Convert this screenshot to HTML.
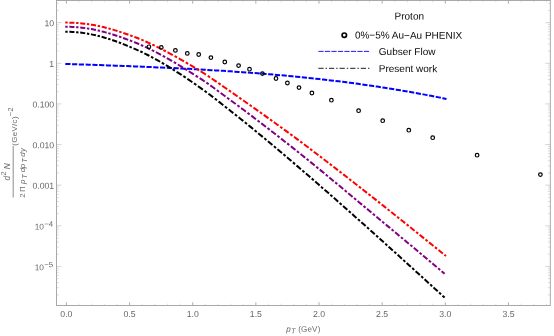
<!DOCTYPE html>
<html><head><meta charset="utf-8"><style>html,body{margin:0;padding:0;background:#fff}body{width:554px;height:336px;overflow:hidden;font-family:"Liberation Sans",sans-serif}</style></head><body>
<svg width="554" height="336" viewBox="0 0 554 336" style="display:block;will-change:transform">
<rect width="554" height="336" fill="#fff"/>
<path d="M56.50,266.45 h5.00 M550.30,266.45 h-5.00 M56.50,225.82 h5.00 M550.30,225.82 h-5.00 M56.50,185.19 h5.00 M550.30,185.19 h-5.00 M56.50,144.56 h5.00 M550.30,144.56 h-5.00 M56.50,103.93 h5.00 M550.30,103.93 h-5.00 M56.50,63.30 h5.00 M550.30,63.30 h-5.00 M56.50,22.67 h5.00 M550.30,22.67 h-5.00" stroke="#aaa" stroke-width="0.5" fill="none"/>
<path d="M66.40,305.50 v-3.20 M66.40,0.45 v3.20 M129.55,305.50 v-3.20 M129.55,0.45 v3.20 M192.70,305.50 v-3.20 M192.70,0.45 v3.20 M255.85,305.50 v-3.20 M255.85,0.45 v3.20 M319.00,305.50 v-3.20 M319.00,0.45 v3.20 M382.15,305.50 v-3.20 M382.15,0.45 v3.20 M445.30,305.50 v-3.20 M445.30,0.45 v3.20 M508.45,305.50 v-3.20 M508.45,0.45 v3.20" stroke="#8a8a8a" stroke-width="0.7" fill="none"/>
<path d="M79.03,305.50 v-1.90 M79.03,0.45 v1.90 M91.66,305.50 v-1.90 M91.66,0.45 v1.90 M104.29,305.50 v-1.90 M104.29,0.45 v1.90 M116.92,305.50 v-1.90 M116.92,0.45 v1.90 M142.18,305.50 v-1.90 M142.18,0.45 v1.90 M154.81,305.50 v-1.90 M154.81,0.45 v1.90 M167.44,305.50 v-1.90 M167.44,0.45 v1.90 M180.07,305.50 v-1.90 M180.07,0.45 v1.90 M205.33,305.50 v-1.90 M205.33,0.45 v1.90 M217.96,305.50 v-1.90 M217.96,0.45 v1.90 M230.59,305.50 v-1.90 M230.59,0.45 v1.90 M243.22,305.50 v-1.90 M243.22,0.45 v1.90 M268.48,305.50 v-1.90 M268.48,0.45 v1.90 M281.11,305.50 v-1.90 M281.11,0.45 v1.90 M293.74,305.50 v-1.90 M293.74,0.45 v1.90 M306.37,305.50 v-1.90 M306.37,0.45 v1.90 M331.63,305.50 v-1.90 M331.63,0.45 v1.90 M344.26,305.50 v-1.90 M344.26,0.45 v1.90 M356.89,305.50 v-1.90 M356.89,0.45 v1.90 M369.52,305.50 v-1.90 M369.52,0.45 v1.90 M394.78,305.50 v-1.90 M394.78,0.45 v1.90 M407.41,305.50 v-1.90 M407.41,0.45 v1.90 M420.04,305.50 v-1.90 M420.04,0.45 v1.90 M432.67,305.50 v-1.90 M432.67,0.45 v1.90 M457.93,305.50 v-1.90 M457.93,0.45 v1.90 M470.56,305.50 v-1.90 M470.56,0.45 v1.90 M483.19,305.50 v-1.90 M483.19,0.45 v1.90 M495.82,305.50 v-1.90 M495.82,0.45 v1.90 M521.08,305.50 v-1.90 M521.08,0.45 v1.90 M533.71,305.50 v-1.90 M533.71,0.45 v1.90 M546.34,305.50 v-1.90 M546.34,0.45 v1.90 M56.50,294.85 h2.50 M550.30,294.85 h-2.50 M56.50,287.69 h2.50 M550.30,287.69 h-2.50 M56.50,282.62 h2.50 M550.30,282.62 h-2.50 M56.50,278.68 h2.50 M550.30,278.68 h-2.50 M56.50,275.46 h2.50 M550.30,275.46 h-2.50 M56.50,272.74 h2.50 M550.30,272.74 h-2.50 M56.50,270.39 h2.50 M550.30,270.39 h-2.50 M56.50,268.31 h2.50 M550.30,268.31 h-2.50 M56.50,254.22 h2.50 M550.30,254.22 h-2.50 M56.50,247.06 h2.50 M550.30,247.06 h-2.50 M56.50,241.99 h2.50 M550.30,241.99 h-2.50 M56.50,238.05 h2.50 M550.30,238.05 h-2.50 M56.50,234.83 h2.50 M550.30,234.83 h-2.50 M56.50,232.11 h2.50 M550.30,232.11 h-2.50 M56.50,229.76 h2.50 M550.30,229.76 h-2.50 M56.50,227.68 h2.50 M550.30,227.68 h-2.50 M56.50,213.59 h2.50 M550.30,213.59 h-2.50 M56.50,206.43 h2.50 M550.30,206.43 h-2.50 M56.50,201.36 h2.50 M550.30,201.36 h-2.50 M56.50,197.42 h2.50 M550.30,197.42 h-2.50 M56.50,194.20 h2.50 M550.30,194.20 h-2.50 M56.50,191.48 h2.50 M550.30,191.48 h-2.50 M56.50,189.13 h2.50 M550.30,189.13 h-2.50 M56.50,187.05 h2.50 M550.30,187.05 h-2.50 M56.50,172.96 h2.50 M550.30,172.96 h-2.50 M56.50,165.80 h2.50 M550.30,165.80 h-2.50 M56.50,160.73 h2.50 M550.30,160.73 h-2.50 M56.50,156.79 h2.50 M550.30,156.79 h-2.50 M56.50,153.57 h2.50 M550.30,153.57 h-2.50 M56.50,150.85 h2.50 M550.30,150.85 h-2.50 M56.50,148.50 h2.50 M550.30,148.50 h-2.50 M56.50,146.42 h2.50 M550.30,146.42 h-2.50 M56.50,132.33 h2.50 M550.30,132.33 h-2.50 M56.50,125.17 h2.50 M550.30,125.17 h-2.50 M56.50,120.10 h2.50 M550.30,120.10 h-2.50 M56.50,116.16 h2.50 M550.30,116.16 h-2.50 M56.50,112.94 h2.50 M550.30,112.94 h-2.50 M56.50,110.22 h2.50 M550.30,110.22 h-2.50 M56.50,107.87 h2.50 M550.30,107.87 h-2.50 M56.50,105.79 h2.50 M550.30,105.79 h-2.50 M56.50,91.70 h2.50 M550.30,91.70 h-2.50 M56.50,84.54 h2.50 M550.30,84.54 h-2.50 M56.50,79.47 h2.50 M550.30,79.47 h-2.50 M56.50,75.53 h2.50 M550.30,75.53 h-2.50 M56.50,72.31 h2.50 M550.30,72.31 h-2.50 M56.50,69.59 h2.50 M550.30,69.59 h-2.50 M56.50,67.24 h2.50 M550.30,67.24 h-2.50 M56.50,65.16 h2.50 M550.30,65.16 h-2.50 M56.50,51.07 h2.50 M550.30,51.07 h-2.50 M56.50,43.91 h2.50 M550.30,43.91 h-2.50 M56.50,38.84 h2.50 M550.30,38.84 h-2.50 M56.50,34.90 h2.50 M550.30,34.90 h-2.50 M56.50,31.68 h2.50 M550.30,31.68 h-2.50 M56.50,28.96 h2.50 M550.30,28.96 h-2.50 M56.50,26.61 h2.50 M550.30,26.61 h-2.50 M56.50,24.53 h2.50 M550.30,24.53 h-2.50 M56.50,10.44 h2.50 M550.30,10.44 h-2.50 M56.50,3.28 h2.50 M550.30,3.28 h-2.50" stroke="#c0c0c0" stroke-width="0.5" fill="none"/>
<rect x="56.50" y="0.45" width="493.80" height="305.05" fill="none" stroke="#a0a0a0" stroke-width="0.9"/>
<g fill="none" stroke-width="2.0">
<path d="M65.30,63.91 L69.15,64.05 L73.00,64.18 L76.85,64.31 L80.70,64.44 L84.55,64.58 L88.40,64.71 L92.25,64.85 L96.10,64.98 L99.95,65.12 L103.81,65.26 L107.66,65.40 L111.51,65.54 L115.36,65.68 L119.21,65.82 L123.06,65.97 L126.91,66.12 L130.76,66.27 L134.61,66.42 L138.46,66.57 L142.31,66.73 L146.16,66.89 L150.01,67.05 L153.86,67.22 L157.71,67.39 L161.56,67.56 L165.41,67.74 L169.26,67.92 L173.11,68.10 L176.96,68.28 L180.82,68.48 L184.67,68.67 L188.52,68.87 L192.37,69.07 L196.22,69.28 L200.07,69.49 L203.92,69.71 L207.77,69.93 L211.62,70.16 L215.47,70.39 L219.32,70.62 L223.17,70.87 L227.02,71.12 L230.87,71.37 L234.72,71.63 L238.57,71.90 L242.42,72.17 L246.27,72.45 L250.12,72.73 L253.97,73.02 L257.83,73.32 L261.68,73.62 L265.53,73.93 L269.38,74.25 L273.23,74.58 L277.08,74.91 L280.93,75.25 L284.78,75.60 L288.63,75.96 L292.48,76.32 L296.33,76.69 L300.18,77.07 L304.03,77.46 L307.88,77.86 L311.73,78.26 L315.58,78.68 L319.43,79.10 L323.28,79.53 L327.13,79.98 L330.98,80.43 L334.84,80.89 L338.69,81.36 L342.54,81.83 L346.39,82.32 L350.24,82.82 L354.09,83.33 L357.94,83.85 L361.79,84.38 L365.64,84.92 L369.49,85.47 L373.34,86.03 L377.19,86.61 L381.04,87.19 L384.89,87.79 L388.74,88.39 L392.59,89.01 L396.44,89.64 L400.29,90.28 L404.14,90.93 L407.99,91.60 L411.85,92.28 L415.70,92.97 L419.55,93.67 L423.40,94.38 L427.25,95.11 L431.10,95.85 L434.95,96.60 L438.80,97.37 L442.65,98.15 L446.50,98.94" stroke="#0000ff" stroke-dasharray="5.2 1.57"/>
<path d="M65.30,22.61 L67.65,22.61 M69.37,22.64 L70.06,22.65 L72.44,22.72 L74.43,22.82 M76.14,22.92 L77.20,22.98 L78.50,23.09 M80.21,23.23 L81.96,23.39 L84.33,23.65 L85.25,23.77 M86.96,23.99 L89.09,24.29 L89.30,24.32 M91.01,24.59 L91.47,24.66 L93.85,25.07 L96.03,25.48 M97.72,25.82 L98.61,26.01 L100.05,26.32 M101.75,26.71 L103.37,27.08 L105.75,27.67 L106.74,27.93 M108.43,28.38 L110.51,28.95 L110.78,29.03 M112.49,29.52 L112.89,29.63 L115.27,30.35 L117.51,31.05 M119.20,31.59 L120.03,31.86 L121.58,32.38 M123.31,32.97 L124.78,33.48 L127.16,34.31 L128.41,34.75 M130.14,35.37 L131.92,36.01 L132.56,36.25 M134.32,36.90 L136.68,37.79 L139.06,38.73 L139.48,38.90 M141.22,39.60 L141.44,39.69 L143.65,40.62 M145.40,41.38 L146.20,41.73 L148.58,42.81 L150.56,43.72 M152.29,44.54 L153.34,45.03 L154.72,45.70 M156.48,46.56 L158.10,47.35 L160.47,48.55 L161.66,49.15 M163.40,50.05 L165.23,51.00 L165.83,51.31 M167.60,52.25 L167.61,52.25 L169.99,53.52 L172.37,54.81 L172.80,55.05 M174.55,56.01 L174.75,56.12 L176.99,57.37 M178.76,58.36 L179.51,58.79 L181.89,60.14 L183.96,61.34 M185.71,62.36 L186.65,62.90 L188.13,63.77 M189.88,64.81 L191.41,65.71 L193.79,67.13 L195.06,67.90 M196.80,68.95 L198.55,70.02 L199.18,70.41 M200.92,71.48 L200.92,71.49 L203.30,72.97 L205.68,74.48 L206.00,74.69 M207.71,75.80 L208.06,76.03 L210.03,77.34 M211.71,78.48 L212.82,79.23 L215.20,80.87 L216.65,81.88 M218.32,83.04 L219.96,84.18 L220.60,84.62 M222.25,85.77 L222.34,85.83 L224.72,87.47 L227.10,89.11 L227.17,89.16 M228.83,90.31 L229.48,90.76 L231.09,91.89 M232.74,93.04 L234.24,94.08 L236.62,95.75 L237.60,96.45 M239.25,97.60 L241.37,99.10 L241.49,99.18 M243.12,100.33 L243.75,100.77 L246.13,102.45 L247.95,103.73 M249.59,104.88 L250.89,105.80 L251.82,106.46 M253.44,107.60 L255.65,109.16 L258.03,110.84 L258.24,110.99 M259.86,112.14 L260.41,112.53 L262.08,113.72 M263.69,114.86 L265.17,115.91 L267.55,117.61 L268.45,118.26 M270.06,119.41 L272.27,120.99 M273.87,122.14 L274.69,122.73 L277.06,124.44 L278.60,125.56 M280.20,126.71 L281.82,127.89 L282.39,128.30 M283.98,129.46 L284.20,129.62 L286.58,131.36 L288.68,132.89 M290.26,134.06 L291.34,134.85 L292.43,135.66 M294.01,136.82 L296.10,138.37 L298.48,140.14 L298.67,140.28 M300.24,141.46 L300.86,141.92 L302.40,143.07 M303.96,144.25 L305.62,145.49 L308.00,147.28 L308.59,147.73 M310.15,148.91 L310.38,149.08 L312.29,150.53 M313.85,151.71 L315.13,152.69 L317.51,154.50 L318.44,155.20 M320.00,156.39 L322.12,158.01 M323.67,159.20 L324.65,159.95 L327.03,161.77 L328.24,162.70 M329.79,163.89 L331.79,165.43 L331.90,165.52 M333.44,166.71 L334.17,167.27 L336.55,169.11 L337.99,170.22 M339.53,171.41 L341.31,172.79 L341.63,173.05 M343.17,174.24 L343.69,174.64 L346.07,176.49 L347.69,177.76 M349.22,178.95 L350.82,180.20 L351.32,180.59 M352.85,181.78 L353.20,182.06 L355.58,183.92 L357.35,185.30 M358.88,186.50 L360.34,187.64 L360.97,188.13 M362.49,189.33 L362.72,189.51 L365.10,191.38 L366.98,192.85 M368.49,194.05 L369.86,195.12 L370.58,195.69 M372.09,196.88 L372.24,197.00 L374.62,198.88 L376.57,200.41 M378.08,201.61 L379.38,202.63 L380.15,203.25 M381.66,204.44 L381.76,204.52 L384.14,206.40 L386.12,207.98 M387.63,209.17 L388.89,210.18 L389.70,210.82 M391.20,212.01 L391.27,212.07 L393.65,213.97 L395.64,215.56 M397.15,216.76 L398.41,217.77 L399.21,218.40 M400.70,219.60 L400.79,219.67 L403.17,221.58 L405.13,223.15 M406.63,224.35 L407.93,225.39 L408.68,226.00 M410.18,227.20 L410.31,227.31 L412.69,229.22 L414.59,230.75 M416.09,231.95 L417.45,233.04 L418.14,233.60 M419.63,234.80 L419.83,234.96 L422.21,236.87 L424.04,238.35 M425.53,239.55 L426.97,240.70 L427.58,241.20 M429.07,242.40 L429.34,242.61 L431.72,244.53 L433.48,245.94 M434.97,247.14 L436.48,248.35 L437.02,248.78 M438.51,249.98 L438.86,250.26 L441.24,252.17 L442.92,253.51 M444.42,254.71 L446.00,255.98" stroke="#ff0000"/>
<path d="M65.30,26.80 L67.65,26.81 M69.37,26.84 L70.04,26.85 L72.41,26.93 L74.43,27.04 M76.14,27.16 L77.15,27.23 L78.49,27.35 M80.20,27.52 L81.89,27.70 L84.27,27.99 L85.24,28.13 M86.94,28.37 L89.01,28.70 L89.28,28.75 M90.98,29.04 L91.38,29.11 L93.75,29.57 L95.98,30.03 M97.66,30.41 L98.49,30.59 L99.99,30.95 M101.68,31.36 L103.23,31.75 L105.60,32.38 L106.65,32.67 M108.32,33.13 L110.34,33.72 L110.66,33.81 M112.36,34.33 L112.71,34.43 L115.08,35.18 L117.35,35.93 M119.03,36.50 L119.82,36.77 L121.40,37.33 M123.11,37.94 L124.57,38.48 L126.94,39.36 L128.17,39.82 M129.87,40.47 L131.68,41.16 L132.27,41.39 M134.01,42.08 L134.05,42.09 L136.42,43.05 L138.79,44.03 L139.13,44.18 M140.85,44.92 L141.16,45.05 L143.25,45.99 M144.99,46.78 L145.90,47.21 L148.27,48.34 L150.08,49.23 M151.79,50.07 L153.01,50.68 L154.19,51.28 M155.93,52.18 L157.75,53.13 L160.12,54.38 L161.03,54.87 M162.75,55.80 L164.87,56.97 L165.15,57.13 M166.89,58.10 L167.24,58.30 L169.61,59.65 L171.98,61.02 L172.00,61.04 M173.72,62.05 L174.35,62.42 L176.11,63.47 M177.85,64.51 L179.09,65.27 L181.46,66.71 L182.95,67.63 M184.68,68.70 L186.20,69.65 L187.05,70.18 M188.78,71.26 L190.94,72.60 L193.31,74.09 L193.89,74.45 M195.61,75.54 L195.68,75.58 L197.97,77.04 M199.68,78.15 L200.43,78.62 L202.80,80.18 L204.71,81.46 M206.39,82.60 L207.54,83.39 L208.68,84.20 M210.33,85.37 L212.28,86.77 L214.65,88.51 L215.18,88.91 M216.82,90.11 L217.02,90.27 L219.05,91.77 M220.67,92.97 L221.76,93.78 L224.13,95.52 L225.49,96.51 M227.12,97.70 L228.87,98.98 L229.35,99.33 M230.97,100.52 L231.24,100.73 L233.61,102.47 L235.75,104.05 M237.37,105.25 L238.36,105.98 L239.57,106.89 M241.18,108.08 L243.10,109.51 L245.47,111.29 L245.91,111.62 M247.51,112.83 L247.84,113.07 L249.70,114.47 M251.28,115.67 L252.58,116.65 L254.95,118.45 L255.97,119.22 M257.56,120.43 L259.69,122.06 L259.72,122.08 M261.29,123.28 L262.06,123.87 L264.43,125.69 L265.94,126.85 M267.51,128.06 L269.17,129.34 L269.66,129.71 M271.22,130.92 L271.54,131.17 L273.92,133.01 L275.83,134.50 M277.39,135.72 L278.66,136.71 L279.52,137.38 M281.07,138.59 L283.40,140.42 L285.65,142.19 M287.20,143.41 L288.14,144.15 L289.32,145.08 M290.86,146.30 L292.88,147.90 L295.25,149.79 L295.40,149.91 M296.94,151.14 L297.62,151.68 L299.04,152.82 M300.58,154.04 L302.36,155.47 L304.73,157.38 L305.09,157.67 M306.62,158.90 L307.10,159.29 L308.70,160.59 M310.22,161.82 L311.85,163.14 L314.22,165.07 L314.71,165.47 M316.22,166.70 L316.59,167.00 L318.29,168.40 M319.80,169.64 L321.33,170.89 L323.70,172.84 L324.26,173.30 M325.76,174.54 L326.07,174.79 L327.82,176.24 M329.32,177.48 L330.81,178.71 L333.18,180.67 L333.75,181.14 M335.25,182.39 L335.55,182.63 L337.30,184.09 M338.80,185.33 L340.29,186.57 L342.66,188.55 L343.21,189.00 M344.70,190.25 L345.03,190.52 L346.74,191.95 M348.23,193.19 L349.78,194.48 L352.15,196.46 L352.63,196.86 M354.12,198.10 L354.52,198.44 L356.15,199.81 M357.64,201.05 L359.26,202.40 L361.63,204.38 L362.02,204.71 M363.51,205.95 L364.00,206.37 L365.54,207.65 M367.02,208.89 L368.74,210.33 L371.11,212.31 L371.40,212.55 M372.88,213.79 L373.48,214.29 L374.91,215.48 M376.39,216.71 L378.22,218.24 L380.59,220.22 L380.77,220.36 M382.25,221.59 L382.96,222.19 L384.28,223.28 M385.76,224.51 L387.71,226.13 L390.08,228.10 L390.13,228.15 M391.61,229.38 L392.45,230.07 L393.64,231.06 M395.11,232.29 L397.19,234.02 L399.48,235.92 M400.95,237.15 L401.93,237.96 L402.98,238.83 M404.45,240.06 L406.67,241.90 L408.81,243.69 M410.29,244.92 L411.41,245.85 L412.31,246.60 M413.78,247.83 L413.78,247.83 L416.15,249.81 L418.13,251.46 M419.60,252.69 L420.89,253.77 L421.62,254.37 M423.08,255.60 L423.26,255.75 L425.63,257.74 L427.42,259.23 M428.89,260.46 L430.38,261.71 L430.90,262.15 M432.37,263.38 L432.75,263.70 L435.12,265.70 L436.69,267.03 M438.15,268.26 L439.86,269.70 L440.16,269.95 M441.62,271.19 L442.23,271.70 L444.60,273.71" stroke="#800080"/>
<path d="M65.30,31.79 L67.65,31.79 M69.37,31.83 L70.04,31.84 L72.41,31.94 L74.43,32.06 M76.14,32.19 L77.15,32.28 L78.49,32.41 M80.19,32.60 L81.89,32.80 L84.27,33.13 L85.22,33.28 M86.92,33.55 L89.01,33.91 L89.25,33.96 M90.94,34.28 L91.38,34.36 L93.75,34.86 L95.93,35.35 M97.60,35.75 L98.49,35.97 L99.92,36.34 M101.60,36.78 L103.23,37.23 L105.60,37.92 L106.53,38.20 M108.19,38.71 L110.34,39.40 L110.50,39.46 M112.18,40.02 L112.71,40.20 L115.08,41.03 L117.11,41.77 M118.77,42.40 L119.82,42.80 L121.09,43.30 M122.78,43.97 L124.57,44.69 L126.94,45.65 L127.76,45.99 M129.45,46.68 L131.68,47.60 L131.81,47.66 M133.54,48.38 L134.05,48.59 L136.42,49.61 L138.59,50.57 M140.29,51.35 L141.16,51.74 L142.66,52.45 M144.38,53.28 L145.90,54.04 L148.27,55.25 L149.39,55.84 M151.08,56.73 L153.01,57.76 L153.43,57.99 M155.14,58.93 L155.38,59.06 L157.75,60.38 L160.12,61.73 L160.15,61.75 M161.83,62.72 L162.50,63.10 L164.19,64.10 M165.89,65.12 L167.24,65.92 L169.61,67.36 L170.91,68.17 M172.60,69.21 L174.35,70.31 L174.95,70.69 M176.65,71.77 L176.72,71.82 L179.09,73.34 L181.46,74.88 L181.66,75.02 M183.35,76.13 L183.83,76.45 L185.67,77.68 M187.36,78.82 L188.57,79.63 L190.94,81.25 L192.34,82.21 M194.01,83.37 L195.68,84.54 L196.31,84.97 M197.97,86.14 L198.06,86.20 L200.43,87.88 L202.80,89.58 L202.88,89.64 M204.53,90.83 L205.17,91.30 L206.78,92.48 M208.41,93.69 L209.91,94.82 L212.28,96.62 L213.19,97.33 M214.80,98.57 L217.00,100.28 M218.59,101.52 L219.39,102.15 L221.76,104.01 L223.30,105.21 M224.90,106.46 L226.50,107.71 L227.08,108.17 M228.66,109.41 L228.87,109.58 L231.24,111.44 L233.34,113.10 M234.92,114.35 L235.99,115.20 L237.07,116.07 M238.64,117.32 L240.73,118.99 L243.10,120.90 L243.26,121.03 M244.82,122.29 L245.47,122.81 L246.95,124.01 M248.50,125.26 L250.21,126.65 L252.58,128.58 L253.07,128.98 M254.61,130.25 L254.95,130.52 L256.72,131.98 M258.25,133.24 L259.69,134.42 L262.06,136.38 L262.78,136.97 M264.31,138.24 L264.43,138.34 L266.39,139.97 M267.91,141.24 L269.17,142.29 L271.54,144.27 L272.40,144.98 M273.92,146.25 L275.99,148.00 M277.50,149.27 L278.66,150.24 L281.03,152.24 L281.95,153.03 M283.46,154.30 L285.52,156.05 M287.02,157.32 L288.14,158.27 L290.51,160.29 L291.45,161.09 M292.94,162.37 L294.99,164.12 M296.48,165.40 L297.62,166.37 L299.99,168.41 L300.88,169.17 M302.37,170.45 L304.41,172.21 M305.89,173.49 L307.10,174.54 L309.47,176.59 L310.27,177.27 M311.75,178.56 L311.85,178.64 L313.77,180.31 M315.25,181.59 L316.59,182.76 L318.96,184.82 L319.60,185.39 M321.07,186.67 L321.33,186.89 L323.09,188.43 M324.56,189.71 L326.07,191.04 L328.44,193.11 L328.89,193.51 M330.35,194.79 L330.81,195.19 L332.36,196.56 M333.82,197.84 L335.55,199.36 L337.92,201.45 L338.13,201.64 M339.59,202.92 L340.29,203.54 L341.59,204.69 M343.04,205.97 L345.03,207.73 L347.34,209.77 M348.79,211.06 L349.78,211.94 L350.78,212.82 M352.23,214.11 L354.52,216.15 L356.50,217.91 M357.95,219.20 L359.26,220.37 L359.93,220.97 M361.37,222.25 L361.63,222.48 L364.00,224.60 L365.63,226.06 M367.07,227.34 L368.74,228.83 L369.05,229.11 M370.49,230.40 L371.11,230.96 L373.48,233.08 L374.73,234.20 M376.17,235.49 L378.14,237.26 M379.57,238.54 L380.59,239.47 L382.96,241.60 L383.80,242.35 M385.23,243.64 L385.33,243.73 L387.19,245.41 M388.62,246.70 L390.08,248.01 L392.45,250.15 L392.84,250.50 M394.27,251.79 L394.82,252.29 L396.22,253.56 M397.65,254.85 L399.56,256.58 L401.85,258.66 M403.28,259.95 L404.30,260.88 L405.23,261.72 M406.65,263.01 L406.67,263.03 L409.04,265.18 L410.84,266.82 M412.26,268.11 L413.78,269.49 L414.21,269.88 M415.63,271.17 L416.15,271.64 L418.52,273.80 L419.82,274.98 M421.23,276.27 L423.18,278.04 M424.59,279.33 L425.63,280.28 L428.01,282.44 L428.77,283.14 M430.19,284.43 L430.38,284.60 L432.13,286.20 M433.54,287.49 L435.12,288.92 L437.49,291.09 L437.72,291.30 M439.13,292.59 L439.86,293.25 L441.07,294.36 M442.48,295.65 L444.60,297.58" stroke="#000000"/>
</g>
<g fill="none" stroke="#000" stroke-width="1.2">
<circle cx="148.9" cy="46.8" r="1.8"/>
<circle cx="161.3" cy="47.4" r="1.8"/>
<circle cx="175.4" cy="50.4" r="1.8"/>
<circle cx="187.3" cy="53.4" r="1.8"/>
<circle cx="198.7" cy="54.5" r="1.8"/>
<circle cx="210.9" cy="57.6" r="1.8"/>
<circle cx="224.8" cy="62.0" r="1.8"/>
<circle cx="238.6" cy="65.6" r="1.8"/>
<circle cx="249.5" cy="69.2" r="1.8"/>
<circle cx="262.4" cy="73.6" r="1.8"/>
<circle cx="276.0" cy="78.5" r="1.8"/>
<circle cx="287.4" cy="83.0" r="1.8"/>
<circle cx="299.0" cy="87.6" r="1.8"/>
<circle cx="311.9" cy="93.0" r="1.8"/>
<circle cx="331.4" cy="100.2" r="1.8"/>
<circle cx="358.6" cy="110.7" r="1.8"/>
<circle cx="382.7" cy="120.7" r="1.8"/>
<circle cx="408.8" cy="130.2" r="1.8"/>
<circle cx="432.7" cy="137.7" r="1.8"/>
<circle cx="477.1" cy="155.2" r="1.8"/>
<circle cx="540.4" cy="174.6" r="1.8"/>
</g>
<g font-family="Liberation Sans, sans-serif" font-size="8.7" fill="#666">
<text x="66.40" y="316.9" text-anchor="middle" transform="rotate(0.04 66.40 316.90)">0.0</text>
<text x="129.55" y="316.9" text-anchor="middle" transform="rotate(0.04 129.55 316.90)">0.5</text>
<text x="192.70" y="316.9" text-anchor="middle" transform="rotate(0.04 192.70 316.90)">1.0</text>
<text x="255.85" y="316.9" text-anchor="middle" transform="rotate(0.04 255.85 316.90)">1.5</text>
<text x="319.00" y="316.9" text-anchor="middle" transform="rotate(0.04 319.00 316.90)">2.0</text>
<text x="382.15" y="316.9" text-anchor="middle" transform="rotate(0.04 382.15 316.90)">2.5</text>
<text x="445.30" y="316.9" text-anchor="middle" transform="rotate(0.04 445.30 316.90)">3.0</text>
<text x="508.45" y="316.9" text-anchor="middle" transform="rotate(0.04 508.45 316.90)">3.5</text>
<text x="54.2" y="26.37" text-anchor="end" transform="rotate(0.04 54.20 26.37)">10</text>
<text x="54.2" y="67.00" text-anchor="end" transform="rotate(0.04 54.20 67.00)">1</text>
<text x="54.2" y="107.63" text-anchor="end" transform="rotate(0.04 54.20 107.63)">0.100</text>
<text x="54.2" y="148.26" text-anchor="end" transform="rotate(0.04 54.20 148.26)">0.010</text>
<text x="54.2" y="188.89" text-anchor="end" transform="rotate(0.04 54.20 188.89)">0.001</text>
<text x="53.1" y="229.62" text-anchor="end" font-size="8.3" transform="rotate(0.04 53.10 229.62)">10<tspan dy="-3.1" dx="0.3" font-size="7.8">−4</tspan></text>
<text x="53.1" y="270.25" text-anchor="end" font-size="8.3" transform="rotate(0.04 53.10 270.25)">10<tspan dy="-3.1" dx="0.3" font-size="7.8">−5</tspan></text>
<text x="286.2" y="331.7" font-size="8.0" letter-spacing="0.2" transform="rotate(0.04 286.20 331.70)"><tspan font-style="italic">p</tspan><tspan font-style="italic" font-size="7.4" dy="1.9" dx="0.2">T</tspan><tspan dy="-1.9"> (GeV)</tspan></text>
<line x1="13.2" y1="146.0" x2="13.2" y2="197.5" stroke="#707070" stroke-width="0.8"/>
<text transform="translate(10.0,180.4) rotate(-90)" fill="#6e6e6e" font-size="8.4"><tspan font-style="italic" x="0">d</tspan><tspan font-size="7.4" dy="-3.7" x="4.9">2</tspan><tspan dy="3.7" x="11.2" font-style="italic">N</tspan></text>
<text id="den" transform="translate(25.0,197.7) rotate(-90)" font-size="7.9" fill="#6e6e6e"><tspan x="0">2</tspan><tspan x="5.6">Π</tspan><tspan font-style="italic" x="13.6">p</tspan><tspan font-style="italic" font-size="7.6" x="19.0" dy="2.0">T</tspan><tspan font-style="italic" dy="-2.0" x="25.45">d</tspan><tspan font-style="italic" x="29.5">p</tspan><tspan font-style="italic" font-size="7.6" dy="2.0" x="34.85">T</tspan><tspan font-style="italic" dy="-2.0" x="41.05">d</tspan><tspan font-style="italic" x="45.6">y</tspan></text>
<text transform="translate(16.5,145.8) rotate(-90)" font-size="8.0" fill="#666" letter-spacing="0.3">(GeV/c)<tspan font-size="7.3" dy="-3.5">−2</tspan></text>
</g>
<g font-family="Liberation Sans, sans-serif" font-size="10" fill="#0a0a0a">
<text x="409.3" y="19.4" text-anchor="middle" transform="rotate(0.04 409.30 19.40)">Proton</text>
<text x="354.9" y="38.6" transform="rotate(0.04 354.90 38.60)">0%−5% Au−Au PHENIX</text>
<text x="378.8" y="55.0" transform="rotate(0.04 378.80 55.00)">Gubser Flow</text>
<text x="378.8" y="72.1" transform="rotate(0.04 378.80 72.10)">Present work</text>
</g>
<circle cx="344.3" cy="35.2" r="2.2" fill="none" stroke="#000" stroke-width="1.7"/>
<path d="M318.4,51.4 H370.4" stroke="#0000ff" stroke-width="0.9" stroke-dasharray="5.2 1.3" fill="none"/>
<path d="M318.4,68.3 H370.4" stroke="#000" stroke-width="0.9" stroke-dasharray="5.2 2 1.4 2" fill="none"/>
</svg>
</body></html>
